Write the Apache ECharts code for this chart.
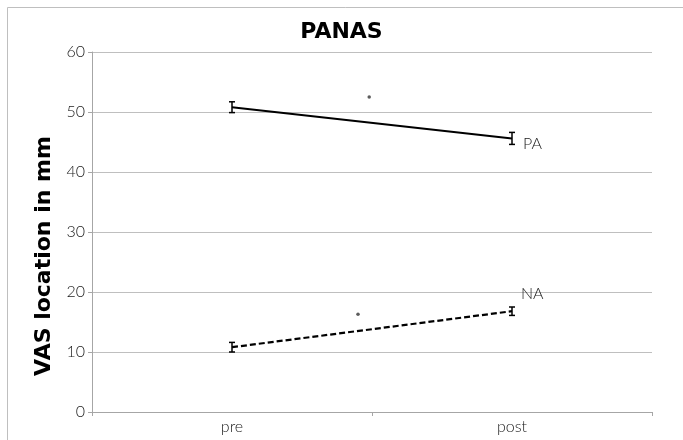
<!DOCTYPE html>
<html><head><meta charset="utf-8">
<script src="https://cdn.jsdelivr.net/npm/echarts@6/dist/echarts.min.js"></script>
<style>html,body{margin:0;padding:0;background:#fff}#c{width:683px;height:440px}</style>
</head><body><div id="c"></div>
<script>
const categories = ['pre', 'post'];
const paValues = [50.8, 45.6];
const paErrors = [0.9, 1.0];
const naValues = [10.8, 16.8];
const naErrors = [0.8, 0.7];
const starPos = [[0.99, 52.5], [0.95, 16.3]];
const yTicks = [0, 10, 20, 30, 40, 50, 60];

const chart = echarts.init(document.getElementById('c'));
const font = 'Lato, "Open Sans", sans-serif';
const bold = '"DejaVu Sans", sans-serif';
function errData(vals, errs){ return vals.map((v,i)=>[i, v-errs[i], v+errs[i]]); }
function errRender(params, api){
  const x = api.value(0);
  const lo = api.coord([x, api.value(1)]);
  const hi = api.coord([x, api.value(2)]);
  const w = 3;
  const st = {stroke:'#000', lineWidth:1.5};
  return {type:'group', children:[
    {type:'line', shape:{x1:lo[0],y1:lo[1],x2:hi[0],y2:hi[1]}, style:st},
    {type:'line', shape:{x1:lo[0]-w,y1:lo[1],x2:lo[0]+w,y2:lo[1]}, style:st},
    {type:'line', shape:{x1:hi[0]-w,y1:hi[1],x2:hi[0]+w,y2:hi[1]}, style:st}
  ]};
}
chart.setOption({
  animation:false,
  graphic:[{type:'rect', shape:{x:7.5,y:7.5,width:680,height:450}, style:{fill:'none', stroke:'#bfbfbf', lineWidth:1}}],
  title:{text:'PANAS', left:'center', top:16, textStyle:{fontFamily:bold, fontWeight:'bold', fontSize:22, color:'#000'}},
  grid:{left:92, right:31, top:52, bottom:28},
  xAxis:[{type:'category', data:categories, boundaryGap:true,
    axisLine:{lineStyle:{color:'#a6a6a6'}}, axisTick:{show:true, lineStyle:{color:'#a6a6a6'}, length:4},
    axisLabel:{fontFamily:font, fontWeight:300, fontSize:16, color:'#1a1a1a', margin:7}},
   {type:'value', min:0, max:2, show:false}],
  yAxis:{type:'value', min:0, max:60, interval:10,
    name:'VAS location in mm', nameLocation:'middle', nameGap:36,
    nameTextStyle:{fontFamily:bold, fontWeight:'bold', fontSize:22, color:'#000', padding:[0,48,0,0]},
    axisLine:{show:true, lineStyle:{color:'#a6a6a6'}}, axisTick:{show:true, length:4, lineStyle:{color:'#a6a6a6'}},
    axisLabel:{fontFamily:font, fontWeight:300, fontSize:16, color:'#1a1a1a', margin:7, formatter:v=>yTicks.includes(v)?String(v):''},
    splitLine:{lineStyle:{color:'#bfbfbf'}}},
  series:[
    {type:'line', data:paValues, symbol:'none', lineStyle:{color:'#000', width:2},
      endLabel:{show:true, formatter:'PA', fontFamily:font, fontWeight:300, fontSize:16, color:'#1a1a1a', offset:[3,5]}},
    {type:'line', data:naValues, symbol:'none', lineStyle:{color:'#000', width:2.2, type:[6,3]},
      endLabel:{show:true, formatter:'NA', fontFamily:font, fontWeight:300, fontSize:16, color:'#1a1a1a', offset:[1,-17]}},
    {type:'custom', renderItem:errRender, data:errData(paValues, paErrors), z:5},
    {type:'custom', renderItem:errRender, data:errData(naValues, naErrors), z:5},
    {type:'scatter', xAxisIndex:1, data:starPos, symbol:'circle', symbolSize:3.5, itemStyle:{color:'#333'}}
  ]
});
</script></body></html>
